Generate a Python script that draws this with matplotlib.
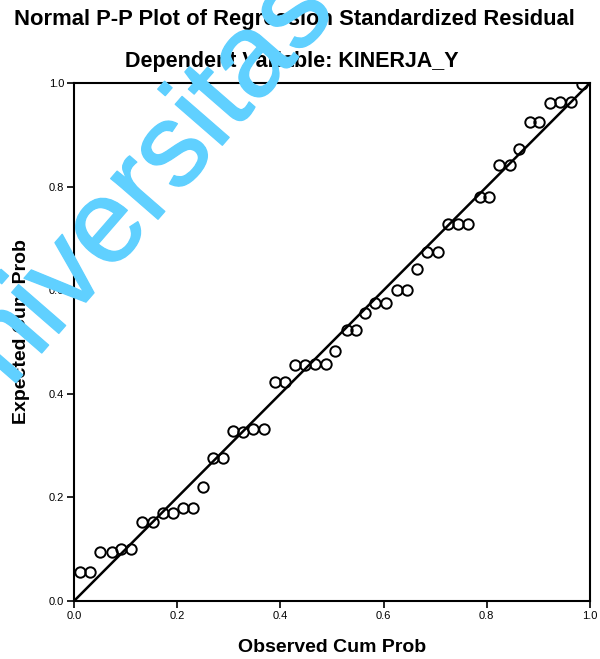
import matplotlib
matplotlib.use("Agg")
import matplotlib.pyplot as plt
import matplotlib.patheffects as pe

# Data
observed = [0.012, 0.031, 0.050, 0.074, 0.091, 0.110, 0.132, 0.153, 0.172, 0.192,
            0.211, 0.231, 0.250, 0.269, 0.289, 0.308, 0.328, 0.347, 0.368, 0.390,
            0.409, 0.428, 0.448, 0.467, 0.488, 0.506, 0.529, 0.547, 0.564, 0.583,
            0.605, 0.626, 0.645, 0.665, 0.684, 0.705, 0.725, 0.744, 0.764, 0.787,
            0.804, 0.824, 0.845, 0.862, 0.884, 0.901, 0.922, 0.942, 0.963, 0.984]
expected = [0.056, 0.056, 0.094, 0.094, 0.100, 0.100, 0.152, 0.152, 0.170, 0.170,
            0.180, 0.180, 0.220, 0.276, 0.276, 0.328, 0.326, 0.332, 0.332, 0.423,
            0.423, 0.456, 0.456, 0.458, 0.458, 0.483, 0.523, 0.523, 0.556, 0.575,
            0.575, 0.600, 0.600, 0.641, 0.674, 0.674, 0.728, 0.728, 0.728, 0.780,
            0.780, 0.842, 0.842, 0.873, 0.925, 0.925, 0.962, 0.964, 0.964, 0.998]
ref_line = [0.0, 1.0]
ticks = [0.0, 0.2, 0.4, 0.6, 0.8, 1.0]
tick_labels = ["0.0", "0.2", "0.4", "0.6", "0.8", "1.0"]

title = "Normal P-P Plot of Regression Standardized Residual"
subtitle = "Dependent Variable: KINERJA_Y"
xlabel = "Observed Cum Prob"
ylabel = "Expected Cum Prob"
watermark = "Universitas"

plt.rcParams['font.family'] = ['Liberation Sans', 'DejaVu Sans']

fig = plt.figure(figsize=(6.0, 6.59), dpi=100)
ax = fig.add_axes([74/600, 58/659, 516/600, 518/659])

ax.plot(ref_line, ref_line, color='black', lw=1.8, zorder=2)
ax.plot(observed, expected, linestyle='none', marker='o', markersize=7.5,
        markerfacecolor='none', markeredgecolor='black', markeredgewidth=1.4, zorder=3)

ax.set_xlim(0, 1)
ax.set_ylim(0, 1)
ax.set_xticks(ticks)
ax.set_xticklabels(tick_labels)
ax.set_yticks(ticks)
ax.set_yticklabels(tick_labels)
ax.tick_params(axis='both', direction='out', length=5, width=1.2, labelsize=8, pad=2)
for s in ax.spines.values():
    s.set_linewidth(1.5)

fig.text(0.49, 1 - 20/659, title, ha='center', va='center', fontsize=15.8, fontweight='bold')
fig.text(0.487, 1 - 62/659, subtitle, ha='center', va='center', fontsize=15.5, fontweight='bold')
fig.text(332/600, 11/659, xlabel, ha='center', va='center', fontsize=14, fontweight='bold')
fig.text(22/600, 1 - 332/659, ylabel, ha='center', va='center', rotation=90,
         fontsize=14, fontweight='bold')

wm = fig.text(123/600, 1 - 213/659, watermark, ha='center', va='center', rotation=49,
              rotation_mode='anchor', fontsize=85, color='#60D0FF', zorder=10)
wm.set_path_effects([pe.withStroke(linewidth=1.0, foreground='#60D0FF')])

fig.savefig('out.png', dpi=100)
